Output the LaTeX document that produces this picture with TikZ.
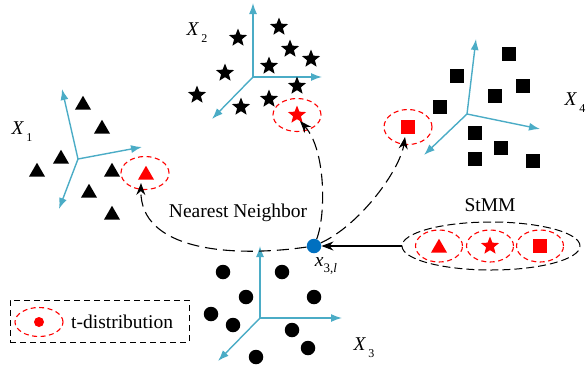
\documentclass[tikz,border=0pt]{standalone}
\usepackage{fontspec}
\setmainfont{Liberation Serif}
\usetikzlibrary{shapes.geometric,arrows.meta}
\definecolor{axcol}{RGB}{75,172,198}
\definecolor{dotblue}{RGB}{0,112,192}
\newcommand\lbl[2]{\textit{#1}\raisebox{-0.35em}{\fontsize{12}{14}\selectfont\,#2}}
\begin{document}
\begin{tikzpicture}[x=1pt,y=-1pt,
  font=\fontsize{19.5}{23}\selectfont,
  axis/.style={draw=axcol,line width=1.4pt,-{Latex[length=11pt,width=8pt]}},
  tri/.style={regular polygon,regular polygon sides=3,fill=#1,draw=none,minimum size=18.5pt,inner sep=0pt},
  tri/.default=black,
  starm/.style={star,star points=5,star point ratio=2.3,fill=#1,draw=none,minimum size=19pt,inner sep=0pt},
  starm/.default=black,
  sq/.style={rectangle,fill=#1,draw=none,minimum size=14.5pt,inner sep=0pt},
  sq/.default=black,
  dotm/.style={circle,fill=#1,draw=none,minimum size=14.5pt,inner sep=0pt},
  dotm/.default=black,
  redell/.style={ellipse,draw=red,line width=1.1pt,dash pattern=on 5pt off 3.5pt,minimum width=48pt,minimum height=33pt,inner sep=0pt},
  nn/.style={draw=black,line width=1.1pt,dash pattern=on 12pt off 6pt,-{Stealth[length=12pt,width=9pt]}},
  lab/.style={inner sep=0pt}
]
\useasboundingbox (0,0) rectangle (586,373);

% ---------- cluster X1 (triangles)
\coordinate (o1) at (78,159);
\coordinate (a1u) at (62,89);
\coordinate (a1r) at (142,147);
\coordinate (a1d) at (59,209);
\draw[axis] (o1) -- (a1u);
\draw[axis] (o1) -- (a1r);
\draw[axis] (o1) -- (a1d);
\foreach \x/\y [count=\i] in {83/105,102/129,61/159,37/172,112/172,89/193,112/215}
  \node[tri] (tA\i) at (\x,\y) {};
\node[redell] (e1) at (145,173) {};
\node[tri=red] (r1) at (146,175) {};
\node[lab] (X1) at (22,132) {\lbl{X}{1}};

% ---------- cluster X2 (stars)
\coordinate (o2) at (253,77);
\coordinate (a2u) at (253,3);
\coordinate (a2r) at (322,77);
\coordinate (a2d) at (212,119);
\draw[axis] (o2) -- (a2u);
\draw[axis] (o2) -- (a2r);
\draw[axis] (o2) -- (a2d);
\foreach \x/\y [count=\i] in {238/38,279/27,290/49,311/59,269/66,225/73,197/95,297/86,269/99,241/107}
  \node[starm] (sB\i) at (\x,\y) {};
\node[redell] (e2) at (297,115) {};
\node[starm=red] (r2) at (297,115) {};
\node[lab] (X2) at (197,33) {\lbl{X}{2}};

% ---------- cluster X4 (squares)
\coordinate (o4) at (467,114);
\coordinate (a4u) at (476,39);
\coordinate (a4r) at (540,129);
\coordinate (a4d) at (424,155);
\draw[axis] (o4) -- (a4u);
\draw[axis] (o4) -- (a4r);
\draw[axis] (o4) -- (a4d);
\foreach \x/\y [count=\i] in {509/54,457/76,523/86,495/96,440/107,475/133,501/148,475/159,533/161}
  \node[sq] (qD\i) at (\x,\y) {};
\node[redell,minimum height=35pt] (e4) at (408,127) {};
\node[sq=red] (r4) at (408,127) {};
\node[lab] (X4) at (575,103) {\lbl{X}{4}};

% ---------- cluster X3 (circles)
\coordinate (o3) at (260,318);
\coordinate (a3u) at (260,246);
\coordinate (a3r) at (342,318);
\coordinate (a3d) at (218,361);
\draw[axis] (o3) -- (a3u);
\draw[axis] (o3) -- (a3r);
\draw[axis] (o3) -- (a3d);
\foreach \x/\y [count=\i] in {223/272,282/272,246/297,314/297,211/314,233/325,292/330,308/348,256/357}
  \node[dotm] (cC\i) at (\x,\y) {};
\node[lab] (X3) at (364,348) {\lbl{X}{3}};

% ---------- query point
\node[dotm=dotblue] (bdot) at (314,246) {};
\node[lab] (xl) at (326,266) {\textit{x}\raisebox{-0.35em}{\fontsize{13}{14}\selectfont 3,\textit{l}}};

% ---------- nearest neighbour curves
\coordinate (t1) at (141,183);
\coordinate (t2) at (300,121);
\coordinate (t4) at (405,137);
\draw[nn] (bdot) .. controls (230,258) and (140,250) .. (t1);
\draw[nn] (bdot) .. controls (326,215) and (326,150) .. (t2);
\draw[nn] (bdot) .. controls (360,225) and (400,170) .. (t4);
\node[lab] (nnl) at (238,213) {Nearest Neighbor};

% ---------- StMM
\node[ellipse,draw=black,line width=1pt,dash pattern=on 8pt off 4pt,minimum width=178pt,minimum height=48pt,inner sep=0pt] (stmm) at (491,246) {};
\node[redell,minimum width=47pt,minimum height=32pt] (s1) at (439,246) {};
\node[redell,minimum width=47pt,minimum height=32pt] (s2) at (490,246) {};
\node[redell,minimum width=47pt,minimum height=32pt] (s3) at (540,246) {};
\node[tri=red] (m1) at (439,248) {};
\node[starm=red] (m2) at (490,246) {};
\node[sq=red] (m3) at (540,246) {};
\node[lab] (stl) at (490,205) {StMM};
\draw[line width=1.1pt,-{Stealth[length=12pt,width=9pt]}] (stmm.west) -- (bdot);

% ---------- legend
\node[draw=black,line width=1pt,dash pattern=on 6pt off 4pt,minimum width=179pt,minimum height=42pt,inner sep=0pt] (legend) at (99.5,321) {};
\node[redell,minimum width=48pt,minimum height=29pt] (le) at (39,322) {};
\node[circle,fill=red,minimum size=10pt,inner sep=0pt] (ld) at (le) {};
\node[lab,anchor=west] (lt) at (71,322) {t-distribution};
\end{tikzpicture}
\end{document}
